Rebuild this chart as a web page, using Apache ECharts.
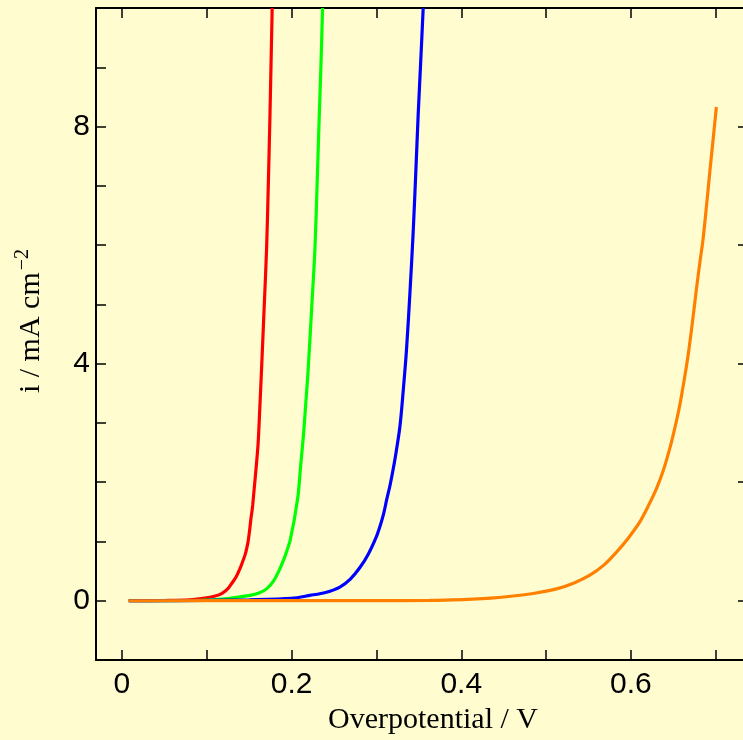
<!DOCTYPE html>
<html>
<head>
<meta charset="utf-8">
<script src="https://cdn.jsdelivr.net/npm/echarts@6/dist/echarts.min.js"></script>
<style>
html,body{margin:0;padding:0;background:#fffdd0;}
#chart{width:743px;height:740px;}
</style>
</head>
<body>
<div id="chart"></div>
<script>
// Data (x: overpotential / V, y: i / mA cm^-2)
const redCurve = [[0.008,0],[0.05,0.004],[0.08,0.015],[0.0998,0.05],[0.11,0.08],[0.1175,0.12],[0.124,0.19],[0.1293,0.29],[0.1345,0.4],[0.1391,0.54],[0.1433,0.7],[0.1455,0.79],[0.147,0.88],[0.1485,0.98],[0.1497,1.1],[0.151,1.25],[0.152,1.38],[0.1532,1.5],[0.1542,1.62],[0.1559,1.89],[0.1582,2.25],[0.1605,2.65],[0.1625,3.25],[0.1646,3.92],[0.1675,4.9],[0.1705,5.94],[0.1725,7.0],[0.1744,8.14],[0.1758,9.1],[0.1771,10.0]];
const greenCurve = [[0.008,0],[0.08,0.004],[0.11,0.02],[0.131,0.05],[0.1509,0.09],[0.1615,0.13],[0.1705,0.2],[0.179,0.34],[0.1862,0.54],[0.1925,0.76],[0.195,0.87],[0.198,1.0],[0.2005,1.18],[0.2032,1.37],[0.2055,1.58],[0.2078,1.8],[0.2108,2.3],[0.214,2.8],[0.2168,3.35],[0.2196,3.92],[0.2235,4.9],[0.2275,5.94],[0.23,7.0],[0.2325,8.14],[0.2345,9.0],[0.2365,10.0]];
const blueCurve = [[0.008,0],[0.1,0.005],[0.15,0.015],[0.2,0.04],[0.2216,0.09],[0.24,0.14],[0.2569,0.23],[0.2695,0.37],[0.2805,0.56],[0.2905,0.79],[0.3002,1.09],[0.3045,1.27],[0.3085,1.47],[0.312,1.7],[0.3159,1.94],[0.3192,2.18],[0.3222,2.42],[0.3276,2.93],[0.3316,3.55],[0.3355,4.25],[0.3395,5.2],[0.3433,6.22],[0.3463,7.2],[0.3492,8.2],[0.3522,9.1],[0.3551,10.0]];
const orangeCurve = [[0.008,0],[0.2,0.002],[0.3,0.003],[0.363,0.005],[0.4022,0.02],[0.435,0.045],[0.4612,0.08],[0.488,0.13],[0.5123,0.2],[0.533,0.3],[0.5516,0.43],[0.568,0.6],[0.583,0.82],[0.597,1.06],[0.6105,1.33],[0.6205,1.6],[0.6301,1.89],[0.6382,2.2],[0.6458,2.57],[0.652,2.93],[0.6576,3.3],[0.6625,3.7],[0.6674,4.14],[0.6725,4.7],[0.6773,5.27],[0.6812,5.7],[0.6851,6.11],[0.689,6.65],[0.693,7.24],[0.697,7.8],[0.7007,8.33]];

const xTickValues = [0,0.1,0.2,0.3,0.4,0.5,0.6,0.7];
const xLabelValues = [0,0.2,0.4,0.6];
const yLeftTickValues = [0,1,2,3,4,5,6,7,8,9];
const yRightTickValues = [0,2,4,6,8];
const yLabelValues = [0,4,8];

const seriesColors = ['#ff0000','#00ff00','#0000ff','#ff8000'];

const chart = echarts.init(document.getElementById('chart'));
const axisLineStyle = {show:true, onZero:false, lineStyle:{color:'#000', width:2}};
const tickStyle = {show:true, inside:true, length:10, lineStyle:{color:'#000', width:1.5}};
const labelFont = {color:'#000', fontSize:30, fontFamily:'Liberation Sans, Arial, sans-serif'};

function mkSeries(data, color){
  return {type:'line', data:data, showSymbol:false, symbol:'none', smooth:0.3,
    lineStyle:{color:color, width:3.2}, itemStyle:{color:color}, clip:true, silent:true};
}

chart.setOption({
  animation:false,
  backgroundColor:'#fffdd0',
  grid:{left:96, top:8, width:652, height:652, containLabel:false, outerBoundsMode:'none'},
  xAxis:[{
    type:'value', position:'bottom', min:-0.0306, max:0.738,
    name:'Overpotential / V', nameLocation:'middle', nameGap:42,
    nameTextStyle:{color:'#000', fontSize:30, fontFamily:'Liberation Serif, Times New Roman, serif', padding:[0,0,0,22]},
    axisLine:axisLineStyle,
    axisTick:Object.assign({}, tickStyle, {customValues:xTickValues}),
    axisLabel:Object.assign({}, labelFont, {customValues:xLabelValues, margin:10, formatter:v=>String(v)}),
    splitLine:{show:false}
  },{
    type:'value', position:'top', min:-0.0306, max:0.738,
    axisLine:axisLineStyle,
    axisTick:Object.assign({}, tickStyle, {customValues:xTickValues}),
    axisLabel:{show:false}, splitLine:{show:false}
  }],
  yAxis:[{
    type:'value', position:'left', min:-1, max:10,
    name:'i / mA cm{sup|\u22122}', nameLocation:'middle', nameGap:47, nameRotate:90,
    nameTextStyle:{color:'#000', fontSize:30, fontFamily:'Liberation Serif, Times New Roman, serif', padding:[0,0,0,26],
      rich:{sup:{fontSize:20, fontFamily:'Liberation Serif, Times New Roman, serif', color:'#000', padding:[0,0,16,2]}}},
    axisLine:axisLineStyle,
    axisTick:Object.assign({}, tickStyle, {customValues:yLeftTickValues}),
    axisLabel:Object.assign({}, labelFont, {customValues:yLabelValues, margin:6}),
    splitLine:{show:false}
  },{
    type:'value', position:'right', min:-1, max:10,
    axisLine:axisLineStyle,
    axisTick:Object.assign({}, tickStyle, {customValues:yRightTickValues}),
    axisLabel:{show:false}, splitLine:{show:false}
  }],
  series:[
    mkSeries(redCurve, seriesColors[0]),
    mkSeries(greenCurve, seriesColors[1]),
    mkSeries(blueCurve, seriesColors[2]),
    mkSeries(orangeCurve, seriesColors[3])
  ]
});
</script>
</body>
</html>
